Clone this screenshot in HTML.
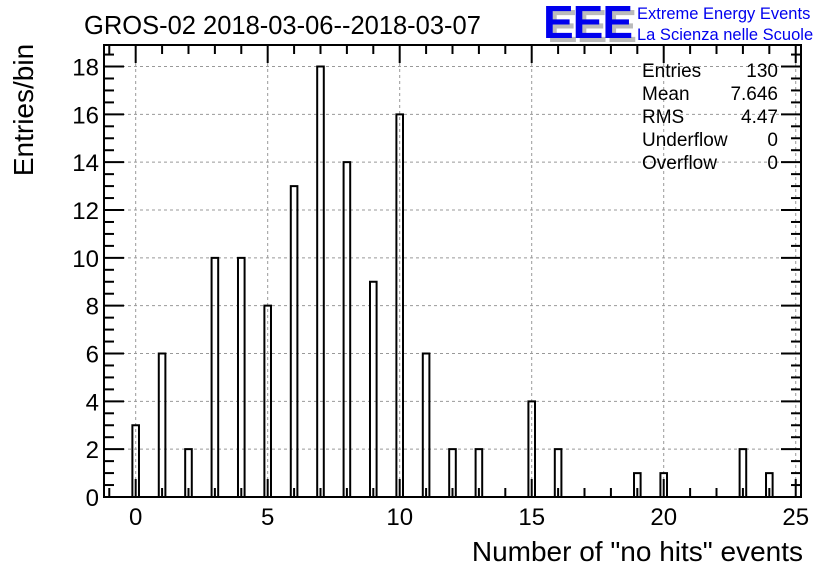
<!DOCTYPE html>
<html><head><meta charset="utf-8"><style>
body{margin:0;background:#fff}
svg{display:block;font-family:"Liberation Sans",sans-serif}
</style></head><body>
<svg id="c" width="836" height="572" viewBox="0 0 836 572" xmlns="http://www.w3.org/2000/svg">
<text x="84" y="34" font-size="25.5">GROS-02 2018-03-06--2018-03-07</text>
<g>
<text x="547" y="42" font-size="46" font-weight="bold" fill="#bbb" letter-spacing="-1">EEE</text>
<text x="543" y="38" font-size="46" font-weight="bold" fill="#0000ee" letter-spacing="-1">EEE</text>
<text x="637" y="19" font-size="16.5" fill="#0000ee">Extreme Energy Events</text>
<text x="637" y="40" font-size="16.5" fill="#0000ee">La Scienza nelle Scuole</text>
</g>
<g id="grid"></g><g id="bars"></g><g id="axes"></g>
<g font-size="19">
<text x="642" y="77">Entries</text><text x="778" y="77" text-anchor="end">130</text>
<text x="642" y="100">Mean</text><text x="778" y="100" text-anchor="end">7.646</text>
<text x="642" y="123">RMS</text><text x="778" y="123" text-anchor="end">4.47</text>
<text x="642" y="146">Underflow</text><text x="778" y="146" text-anchor="end">0</text>
<text x="642" y="169">Overflow</text><text x="778" y="169" text-anchor="end">0</text>
</g>
<text transform="translate(33,110) rotate(-90)" text-anchor="middle" font-size="28">Entries/bin</text>
<text x="803" y="561" text-anchor="end" font-size="28">Number of "no hits" events</text>
</svg>
<script>
const categories=[0,1,2,3,4,5,6,7,8,9,10,11,12,13,15,16,19,20,23,24];
const counts=[3,6,2,10,10,8,13,18,14,9,16,6,2,2,4,2,1,1,2,1];
const xTicks=[0,5,10,15,20,25];
const yTicks=[0,2,4,6,8,10,12,14,16,18];
const L=104,R=801,T=45,B=497,xmin=-1.2,xmax=25.2,ymax=18.9,bw=0.25;
const X=v=>L+(v-xmin)/(xmax-xmin)*(R-L);
const Y=v=>B-v/ymax*(B-T);
const NS="http://www.w3.org/2000/svg";
function mk(p,t,a){const e=document.createElementNS(NS,t);for(const k in a)e.setAttribute(k,a[k]);document.getElementById(p).appendChild(e);return e;}
xTicks.forEach(v=>{const e=mk('grid','line',{x1:X(v),x2:X(v),y1:T,y2:B,stroke:'#999','stroke-dasharray':'3,3'});

});
yTicks.forEach(v=>{const e=mk('grid','line',{x1:L,x2:R,y1:Y(v),y2:Y(v),stroke:'#999','stroke-dasharray':'3,3'});

});
categories.forEach((c,i)=>{const x0=X(c-bw/2),x1=X(c+bw/2),y=Y(counts[i]);
const e=mk('bars','path',{d:`M${x0},${B}V${y}H${x1}V${B}`,fill:'none',stroke:'#000','stroke-width':2});

});
const f=mk('axes','rect',{x:L,y:T,width:R-L,height:B-T,fill:'none',stroke:'#000','stroke-width':2});


for(let v=-1;v<=25;v++){const len=v%5===0?18:9;
mk('axes','line',{x1:X(v),x2:X(v),y1:B,y2:B-len,stroke:'#000','stroke-width':2});
mk('axes','line',{x1:X(v),x2:X(v),y1:T,y2:T+len,stroke:'#000','stroke-width':2});}
for(let v=0;v<=18.5;v+=0.5){const len=v%2===0?20:10;
mk('axes','line',{x1:L,x2:L+len,y1:Y(v),y2:Y(v),stroke:'#000','stroke-width':2});
mk('axes','line',{x1:R,x2:R-len,y1:Y(v),y2:Y(v),stroke:'#000','stroke-width':2});}
xTicks.forEach(v=>{const t=mk('axes','text',{x:X(v),y:525,'text-anchor':'middle','font-size':24});t.textContent=v;

});
yTicks.forEach(v=>{const t=mk('axes','text',{x:99,y:Y(v)+9,'text-anchor':'end','font-size':24});t.textContent=v;

});
</script>
</body></html>
